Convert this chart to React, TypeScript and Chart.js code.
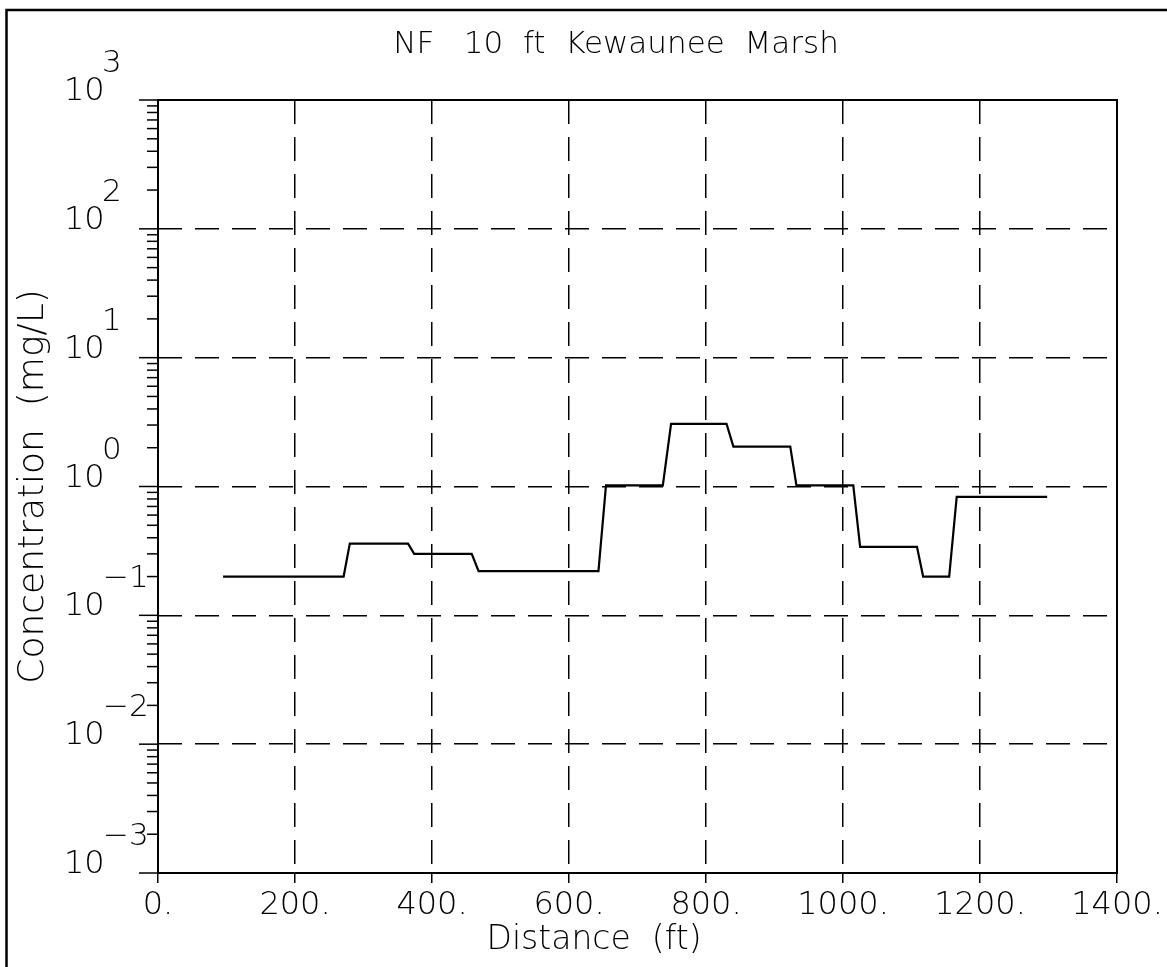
import React, { useEffect, useRef } from 'react';
import { Chart, registerables } from 'chart.js';

Chart.register(...registerables);

// ---- data ----
const distances = [95, 271, 280, 365, 374, 458, 468, 643, 654, 737, 749, 830, 840, 923, 932, 1015, 1025, 1108, 1117, 1155, 1166, 1298];
const concentrations = [0.2, 0.2, 0.36, 0.36, 0.3, 0.3, 0.22, 0.22, 1.02, 1.02, 3.06, 3.06, 2.04, 2.04, 1.02, 1.02, 0.34, 0.34, 0.2, 0.2, 0.83, 0.83];
const xTickValues = [0, 200, 400, 600, 800, 1000, 1200, 1400];
const yExponents = [-3, -2, -1, 0, 1, 2, 3];
const minorMultipliers = [2, 3, 4, 5, 6, 7, 8, 9];
const chartTitle = 'NF   10  ft  Kewaunee  Marsh';
const xTitle = 'Distance  (ft)';
const yTitle = 'Concentration  (mg/L)';

const FONT = 'DejaVu Sans';
const W = 200;

const decorPlugin = {
  id: 'decor',
  afterDraw(chart: any) {
    const { ctx, chartArea: a, scales } = chart;
    const ys = scales.y;
    ctx.save();
    ctx.setLineDash([]);
    ctx.strokeStyle = '#000';
    ctx.fillStyle = '#000';

    // outer page border (left & top)
    ctx.lineWidth = 2.5;
    ctx.beginPath();
    ctx.moveTo(6.5, 1000);
    ctx.lineTo(6.5, 10);
    ctx.lineTo(1200, 10);
    ctx.stroke();

    // plot frame
    ctx.lineWidth = 2;
    ctx.strokeRect(a.left, a.top, a.right - a.left, a.bottom - a.top);

    // y tick marks (major + log minor)
    ctx.lineWidth = 1.5;
    yExponents.forEach((e) => {
      const py = ys.getPixelForValue(Math.pow(10, e));
      ctx.beginPath();
      ctx.moveTo(a.left - 19, py);
      ctx.lineTo(a.left, py);
      ctx.stroke();
      if (e < 3) {
        minorMultipliers.forEach((m) => {
          const pm = ys.getPixelForValue(m * Math.pow(10, e));
          ctx.beginPath();
          ctx.moveTo(a.left - 11, pm);
          ctx.lineTo(a.left, pm);
          ctx.stroke();
        });
      }
    });

    // y tick labels 10^n
    ctx.textBaseline = 'alphabetic';
    ctx.textAlign = 'left';
    yExponents.forEach((e) => {
      const py = ys.getPixelForValue(Math.pow(10, e));
      ctx.font = `${W} 32px "${FONT}"`;
      ctx.fillText('10', 64, py);
      const expText = e < 0 ? '\u2212' + Math.abs(e) : String(e);
      ctx.font = `${W} 31px "${FONT}"`;
      ctx.fillText(expText, e < 0 ? 103 : 102, py - 28);
    });

    // chart title
    ctx.textAlign = 'center';
    ctx.font = `${W} 31px "${FONT}"`;
    ctx.fillText(chartTitle, 616, 53);

    // x axis title
    ctx.font = `${W} 33px "${FONT}"`;
    ctx.fillText(xTitle, 594, 949);

    ctx.restore();
  },
};

export default function App() {
  const canvasRef = useRef<HTMLCanvasElement | null>(null);

  useEffect(() => {
    if (!canvasRef.current) return;
    const points = distances.map((d, i) => ({ x: d, y: concentrations[i] }));
    const chart = new Chart(canvasRef.current, {
      type: 'line',
      data: {
        datasets: [
          {
            data: points,
            borderColor: '#000',
            borderWidth: 2.2,
            pointRadius: 0,
            tension: 0,
            fill: false,
          },
        ],
      },
      options: {
        animation: false,
        responsive: false,
        devicePixelRatio: 1,
        layout: { padding: { top: 100, right: 50, left: 0, bottom: 0 } },
        plugins: {
          legend: { display: false },
          title: { display: false },
          tooltip: { enabled: false },
        },
        scales: {
          x: {
            type: 'linear',
            min: 0,
            max: 1400,
            afterFit: (s: any) => {
              s.height = 94;
            },
            afterBuildTicks: (s: any) => {
              s.ticks = xTickValues.map((v) => ({ value: v }));
            },
            ticks: {
              callback: (v: any) => `${v}.`,
              font: { family: FONT, size: 32, weight: W },
              color: '#000',
              padding: 3,
              maxRotation: 0,
              autoSkip: false,
            },
            grid: {
              color: '#000',
              lineWidth: 1.5,
              drawTicks: true,
              tickLength: 10,
              tickColor: '#000',
              tickWidth: 1.5,
              tickBorderDash: [],
            },
            border: { display: false, dash: [24, 13] },
          },
          y: {
            type: 'logarithmic',
            min: 0.001,
            max: 1000,
            afterFit: (s: any) => {
              s.width = 158;
            },
            afterBuildTicks: (s: any) => {
              s.ticks = yExponents.map((e) => ({ value: Math.pow(10, e), major: true }));
            },
            ticks: { display: false },
            grid: {
              color: '#000',
              lineWidth: 1.5,
              drawTicks: false,
            },
            border: { display: false, dash: [24, 13] },
            title: {
              display: true,
              text: yTitle,
              color: '#000',
              font: { family: FONT, size: 36, weight: W },
              padding: { top: 12, bottom: 0 },
            },
          },
        },
      },
      plugins: [decorPlugin],
    } as any);
    return () => chart.destroy();
  }, []);

  return (
    <div style={{ position: 'absolute', left: 0, top: 0, width: 1167, height: 967, background: '#fff' }}>
      <canvas ref={canvasRef} width={1167} height={967} style={{ display: 'block' }} />
    </div>
  );
}
